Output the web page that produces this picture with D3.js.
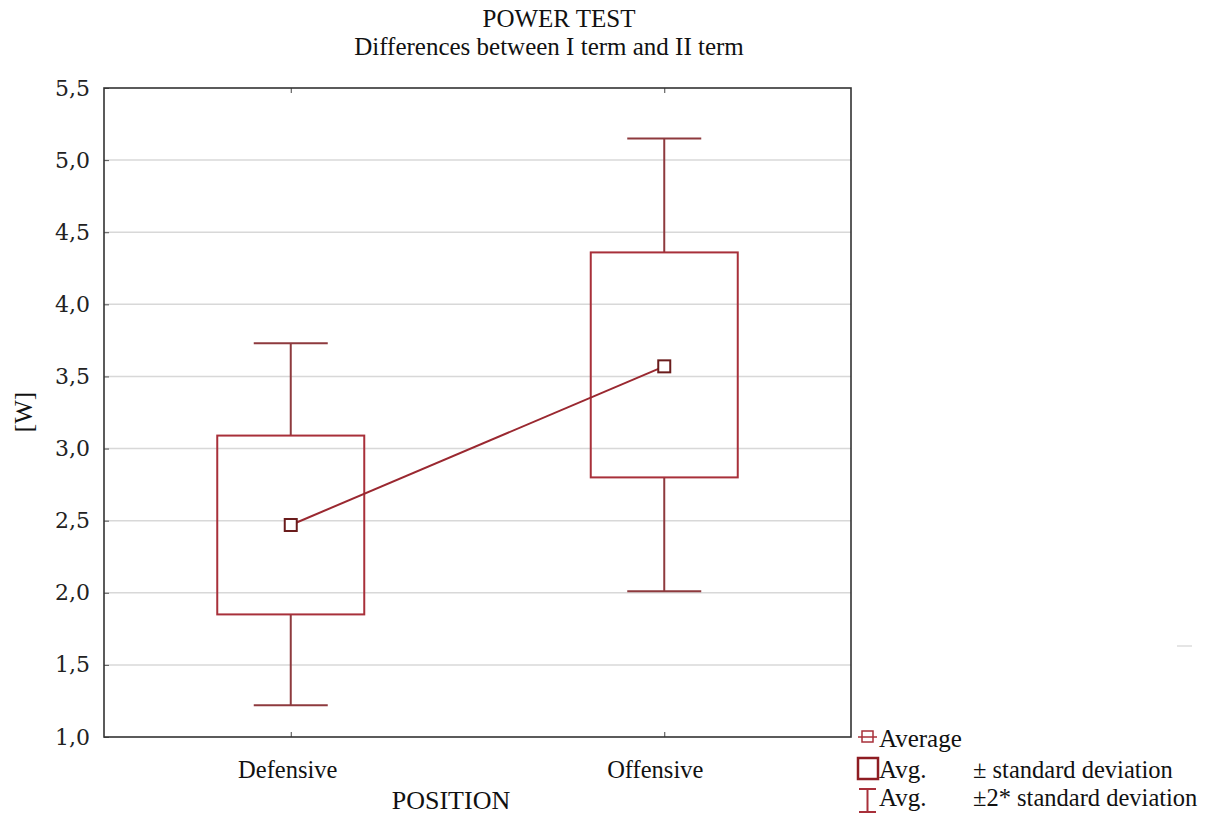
<!DOCTYPE html>
<html>
<head>
<meta charset="utf-8">
<script src="https://cdn.jsdelivr.net/npm/d3@7"></script>
<style>
  html, body { margin: 0; padding: 0; background: #fff; }
  svg { display: block; }
</style>
</head>
<body>
<svg id="chart" width="1212" height="817"></svg>
<script>
// ---- data ----
const categories = ["Defensive", "Offensive"];
const means = [2.47, 3.57];
const boxLow = [1.85, 2.80];
const boxHigh = [3.09, 4.36];
const whiskerLow = [1.22, 2.01];
const whiskerHigh = [3.73, 5.15];
const yTicks = [1.0, 1.5, 2.0, 2.5, 3.0, 3.5, 4.0, 4.5, 5.0, 5.5];
const titleText = "POWER TEST";
const subtitleText = "Differences between I term and II term";
const xTitle = "POSITION";
const yTitle = "[W]";
const legendLabels = ["Average", "Avg.", "Avg."];
const legendSuffix = ["", "\u00B1 standard deviation", "\u00B12* standard deviation"];

// ---- layout ----
const SERIF = "Liberation Serif";
const svg = d3.select("#chart");
const X0 = 104, X1 = 851, Y0 = 88, Y1 = 737;
const boxColor = "#a8303a", whiskColor = "#8e3a3e", meanLine = "#9a2830", meanSq = "#6a1c1c";

function serifText(sel, size) {
  return sel.style("font-family", SERIF).style("font-size", size + "px").attr("fill", "#111");
}

const x = d3.scalePoint().domain(categories).range([X0, X1]).padding(0.5);
const y = d3.scaleLinear().domain([1.0, 5.5]).range([Y1, Y0]);
const fmt = v => d3.format(".1f")(v).replace(".", ",");

// gridlines
svg.append("g").selectAll("line").data(yTicks.filter(t => t > 1.0 && t < 5.5)).join("line")
  .attr("x1", X0).attr("x2", X1)
  .attr("y1", d => y(d)).attr("y2", d => y(d))
  .attr("stroke", "#d8d8d8").attr("stroke-width", 1.5);

// y axis
const yAxis = svg.append("g").attr("transform", `translate(${X0},0)`)
  .call(d3.axisLeft(y).tickValues(yTicks).tickFormat(fmt).tickSizeInner(-5).tickSizeOuter(0).tickPadding(14));
yAxis.select(".domain").remove();
yAxis.selectAll(".tick line").attr("stroke", "#555");
yAxis.selectAll(".tick text")
  .style("font-family", "DejaVu Serif").style("font-size", "22px").attr("fill", "#222");

// x axis ticks (bottom & top, inward)
const xAxisB = svg.append("g").attr("transform", `translate(0,${Y1})`)
  .call(d3.axisBottom(x).tickSizeInner(-5).tickSizeOuter(0).tickFormat(""));
xAxisB.select(".domain").remove();
xAxisB.selectAll(".tick line").attr("stroke", "#444");
const xAxisT = svg.append("g").attr("transform", `translate(0,${Y0})`)
  .call(d3.axisTop(x).tickSizeInner(-5).tickSizeOuter(0).tickFormat(""));
xAxisT.select(".domain").remove();
xAxisT.selectAll(".tick line").attr("stroke", "#444");

// x category labels
serifText(svg.append("g").selectAll("text").data(categories).join("text")
  .attr("x", (d, i) => x(d) - (i === 0 ? 3 : 9)).attr("y", 778)
  .attr("text-anchor", "middle"), 24.5)
  .text(d => d);

// frame
svg.append("rect").attr("x", X0).attr("y", Y0).attr("width", X1 - X0).attr("height", Y1 - Y0)
  .attr("fill", "none").attr("stroke", "#333").attr("stroke-width", 1.6);

// whiskers
const capW = 74, boxW = 147;
const wg = svg.append("g");
categories.forEach((c, i) => {
  const cx = x(c);
  wg.append("line").attr("x1", cx).attr("x2", cx).attr("y1", y(whiskerHigh[i])).attr("y2", y(boxHigh[i]))
    .attr("stroke", whiskColor).attr("stroke-width", 2);
  wg.append("line").attr("x1", cx).attr("x2", cx).attr("y1", y(boxLow[i])).attr("y2", y(whiskerLow[i]))
    .attr("stroke", whiskColor).attr("stroke-width", 2);
  wg.append("line").attr("x1", cx - capW / 2).attr("x2", cx + capW / 2).attr("y1", y(whiskerHigh[i])).attr("y2", y(whiskerHigh[i]))
    .attr("stroke", whiskColor).attr("stroke-width", 2);
  wg.append("line").attr("x1", cx - capW / 2).attr("x2", cx + capW / 2).attr("y1", y(whiskerLow[i])).attr("y2", y(whiskerLow[i]))
    .attr("stroke", whiskColor).attr("stroke-width", 2);
});

// boxes
svg.append("g").selectAll("rect").data(categories).join("rect")
  .attr("x", d => x(d) - boxW / 2).attr("width", boxW)
  .attr("y", (d, i) => y(boxHigh[i])).attr("height", (d, i) => y(boxLow[i]) - y(boxHigh[i]))
  .attr("fill", "none").attr("stroke", boxColor).attr("stroke-width", 2);

// mean line
svg.append("path")
  .datum(categories.map((c, i) => [x(c), y(means[i])]))
  .attr("d", d3.line())
  .attr("fill", "none").attr("stroke", meanLine).attr("stroke-width", 2);

// mean squares
svg.append("g").selectAll("rect").data(categories).join("rect")
  .attr("x", d => x(d) - 6).attr("y", (d, i) => y(means[i]) - 6)
  .attr("width", 12).attr("height", 12)
  .attr("fill", "#fff").attr("stroke", meanSq).attr("stroke-width", 2);

// titles
serifText(svg.append("text").attr("x", 559).attr("y", 27).attr("text-anchor", "middle"), 25).text(titleText);
serifText(svg.append("text").attr("x", 549).attr("y", 55).attr("text-anchor", "middle"), 25).text(subtitleText);
serifText(svg.append("text").attr("x", 451).attr("y", 809).attr("text-anchor", "middle"), 26).text(xTitle);
serifText(svg.append("text").attr("transform", "translate(32,412) rotate(-90)").attr("text-anchor", "middle"), 25).text(yTitle);

// legend
const lg = svg.append("g");
const rowsY = [747, 778, 806];
// average icon
lg.append("line").attr("x1", 858).attr("x2", 877).attr("y1", 737).attr("y2", 737)
  .attr("stroke", boxColor).attr("stroke-width", 1.5);
lg.append("rect").attr("x", 862).attr("y", 731).attr("width", 11).attr("height", 11)
  .attr("fill", "none").attr("stroke", boxColor).attr("stroke-width", 1.5);
// box icon
lg.append("rect").attr("x", 858).attr("y", 758).attr("width", 20).attr("height", 21)
  .attr("fill", "none").attr("stroke", "#8e1c22").attr("stroke-width", 2.5);
// whisker icon
lg.append("line").attr("x1", 859).attr("x2", 876).attr("y1", 789).attr("y2", 789).attr("stroke", boxColor).attr("stroke-width", 2);
lg.append("line").attr("x1", 867.5).attr("x2", 867.5).attr("y1", 789).attr("y2", 812).attr("stroke", boxColor).attr("stroke-width", 2);
lg.append("line").attr("x1", 859).attr("x2", 876).attr("y1", 812).attr("y2", 812).attr("stroke", boxColor).attr("stroke-width", 2);

serifText(lg.selectAll("text.lab").data(legendLabels).join("text")
  .attr("class", "lab").attr("x", 879).attr("y", (d, i) => rowsY[i]), 25).text(d => d);
serifText(lg.selectAll("text.suf").data(legendSuffix).join("text")
  .attr("class", "suf").attr("x", 973).attr("y", (d, i) => rowsY[i]), 24.5).text(d => d);

// small stray mark at right
svg.append("line").attr("x1", 1177).attr("x2", 1192).attr("y1", 646).attr("y2", 646)
  .attr("stroke", "#ddd").attr("stroke-width", 1.5);
</script>
</body>
</html>
